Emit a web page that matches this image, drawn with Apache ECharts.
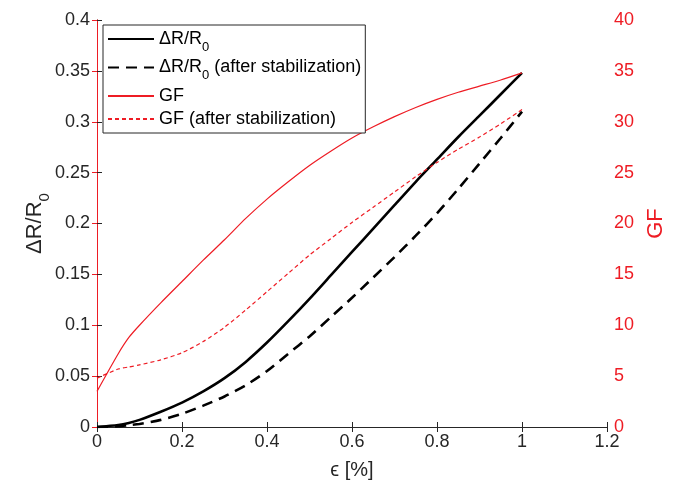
<!DOCTYPE html>
<html>
<head>
<meta charset="utf-8">
<script src="https://cdn.jsdelivr.net/npm/echarts@6/dist/echarts.min.js"></script>
<style>
  html, body { margin: 0; padding: 0; background: #ffffff; }
  #chart { width: 675px; height: 486px; }
</style>
</head>
<body>
<div id="chart"></div>
<script>
// Strain sample points (%) shared by all curves
const strain = [0, 0.05, 0.075, 0.1, 0.15, 0.2, 0.25, 0.3, 0.35, 0.4, 0.45, 0.5,
                0.55, 0.6, 0.65, 0.7, 0.75, 0.8, 0.85, 0.9, 0.95, 1.0];

// Relative resistance change ΔR/R0
const dR = [0, 0.002, 0.004, 0.007, 0.015, 0.024, 0.035, 0.048, 0.064, 0.083, 0.104, 0.126,
            0.149, 0.172, 0.195, 0.218, 0.241, 0.263, 0.285, 0.306, 0.327, 0.348];
const dRStab = [0, 0.0008, 0.0018, 0.003, 0.007, 0.013, 0.021, 0.030, 0.041, 0.055, 0.072, 0.089,
                0.108, 0.127, 0.147, 0.167, 0.188, 0.210, 0.234, 0.259, 0.284, 0.310];

// Gauge factor
const gf = [3.5, 7.2, 8.8, 10.0, 12.2, 14.3, 16.4, 18.4, 20.5, 22.4, 24.1, 25.7,
            27.1, 28.4, 29.5, 30.5, 31.4, 32.2, 32.9, 33.5, 34.1, 34.8];
const gfStab = [4.8, 5.7, 5.9, 6.1, 6.6, 7.3, 8.4, 9.8, 11.5, 13.3, 15.1, 16.9,
                18.5, 20.1, 21.6, 23.1, 24.6, 26.0, 27.3, 28.5, 29.8, 31.2];

// Tick labels
const xTicks = ['0', '0.2', '0.4', '0.6', '0.8', '1', '1.2'];
const yLeftTicks = ['0', '0.05', '0.1', '0.15', '0.2', '0.25', '0.3', '0.35', '0.4'];
const yRightTicks = ['0', '5', '10', '15', '20', '25', '30', '35', '40'];

// Legend entries (rich-text markup for the subscript)
const seriesNames = ['dR', 'dRStab', 'GF', 'GFStab'];
const legendLabels = ['{a|ΔR/R}{s|0}', '{a|ΔR/R}{s|0}{a| (after stabilization)}', '{a|GF}', '{a|GF (after stabilization)}'];

const RED = '#ee1c24';
const AXIS = '#262626';
const FONT = 'Liberation Sans, Arial, sans-serif';

const pairs = (ys) => strain.map((x, i) => [x, ys[i]]);
const labelFrom = (list, min, step) => (v) => list[Math.round((v - min) / step)] ?? '';

const chart = echarts.init(document.getElementById('chart'), null, { renderer: 'canvas' });

chart.setOption({
  backgroundColor: '#ffffff',
  animation: false,
  textStyle: { fontFamily: FONT },
  grid: { left: 97, right: 58, top: 20, bottom: 59, containLabel: false },
  legend: {
    orient: 'vertical',
    left: 103,
    top: 25,
    padding: [5, 4, 5, 4],
    itemGap: 5,
    itemWidth: 46,
    itemHeight: 14,
    backgroundColor: '#ffffff',
    borderColor: AXIS,
    borderWidth: 1,
    borderRadius: 0,
    itemStyle: { opacity: 0 },
    data: seriesNames,
    formatter: (name) => legendLabels[seriesNames.indexOf(name)],
    textStyle: {
      fontFamily: FONT,
      rich: {
        a: { fontSize: 18, color: '#000', fontFamily: FONT, lineHeight: 22 },
        s: { fontSize: 13, color: '#000', fontFamily: FONT, verticalAlign: 'bottom', lineHeight: 29 }
      }
    }
  },
  xAxis: [
    {
      type: 'value', position: 'bottom', min: 0, max: 1.2, interval: 0.2,
      name: 'ϵ [%]', nameLocation: 'middle', nameGap: 33, nameMoveOverlap: false,
      nameTextStyle: { fontSize: 20, color: AXIS, fontFamily: FONT },
      axisLine: { show: true, lineStyle: { color: AXIS, width: 1 } },
      axisTick: { show: true, inside: true, length: 5, lineStyle: { color: AXIS } },
      axisLabel: { fontSize: 18, color: AXIS, margin: 6, formatter: labelFrom(xTicks, 0, 0.2) },
      splitLine: { show: false }
    },
    {
      type: 'value', position: 'top', min: 0, max: 1.2, interval: 0.2,
      axisLine: { show: true, lineStyle: { color: AXIS, width: 1 } },
      axisTick: { show: true, inside: true, length: 5, lineStyle: { color: AXIS } },
      axisLabel: { show: false },
      splitLine: { show: false }
    }
  ],
  yAxis: [
    {
      type: 'value', position: 'left', min: 0, max: 0.4, interval: 0.05,
      name: '{a|ΔR/R}{s|0}', nameLocation: 'middle', nameGap: 45, nameRotate: 90,
      nameMoveOverlap: false,
      nameTextStyle: {
        rich: {
          a: { fontSize: 22, color: AXIS, fontFamily: FONT, lineHeight: 26 },
          s: { fontSize: 15, color: AXIS, fontFamily: FONT, verticalAlign: 'bottom', lineHeight: 34 }
        }
      },
      axisLine: { show: true, lineStyle: { color: AXIS, width: 1 } },
      axisTick: { show: true, inside: true, length: 5, lineStyle: { color: AXIS } },
      axisLabel: { fontSize: 18, color: AXIS, margin: 7, formatter: labelFrom(yLeftTicks, 0, 0.05) },
      splitLine: { show: false }
    },
    {
      type: 'value', position: 'right', min: 0, max: 40, interval: 5,
      name: 'GF', nameLocation: 'middle', nameGap: 38, nameRotate: 90,
      nameMoveOverlap: false,
      nameTextStyle: { fontSize: 22, color: RED, fontFamily: FONT },
      axisLine: { show: true, lineStyle: { color: RED, width: 1 } },
      axisTick: { show: true, inside: true, length: 5, lineStyle: { color: RED } },
      axisLabel: { fontSize: 18, color: RED, margin: 7, formatter: labelFrom(yRightTicks, 0, 5) },
      splitLine: { show: false }
    }
  ],
  series: [
    {
      name: 'dR', type: 'line', xAxisIndex: 0, yAxisIndex: 0, data: pairs(dR),
      symbol: 'none', smooth: 0.25,
      lineStyle: { color: '#000', width: 2.6, type: 'solid' }, itemStyle: { color: '#000' }
    },
    {
      name: 'dRStab', type: 'line', xAxisIndex: 0, yAxisIndex: 0, data: pairs(dRStab),
      symbol: 'none', smooth: 0.25,
      lineStyle: { color: '#000', width: 2.6, type: [11, 7] }, itemStyle: { color: '#000' }
    },
    {
      name: 'GF', type: 'line', xAxisIndex: 0, yAxisIndex: 1, data: pairs(gf),
      symbol: 'none', smooth: 0.25,
      lineStyle: { color: RED, width: 1.2, type: 'solid' }, itemStyle: { color: RED }
    },
    {
      name: 'GFStab', type: 'line', xAxisIndex: 0, yAxisIndex: 1, data: pairs(gfStab),
      symbol: 'none', smooth: 0.25,
      lineStyle: { color: RED, width: 1.2, type: [4, 3] }, itemStyle: { color: RED }
    }
  ]
});
</script>
</body>
</html>
